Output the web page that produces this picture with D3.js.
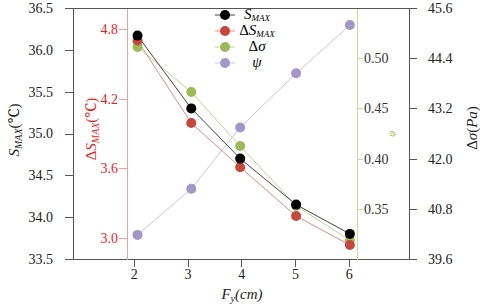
<!DOCTYPE html>
<html>
<head>
<meta charset="utf-8">
<script src="https://cdn.jsdelivr.net/npm/d3@7"></script>
<style>
  body { margin: 0; background: #fff; }
  svg text { font-family: 'Times New Roman', Times, 'Liberation Serif', Tinos, 'Noto Serif', 'DejaVu Serif', serif; }
  .axis path, .axis line { shape-rendering: crispEdges; }
</style>
</head>
<body>
<svg id="chart" width="480" height="306"></svg>
<script>
// Values.
const fy = [2.07, 3.07, 3.98, 5.02, 6.02];
const sMax = [36.17, 35.30, 34.70, 34.15, 33.80];
const dSMax = [4.70, 3.99, 3.61, 3.19, 2.94];
const dSigma = [44.67, 43.59, 42.30, 40.87, 40.05];
const psi = [0.324, 0.370, 0.431, 0.485, 0.533];

const xTicks = [2, 3, 4, 5, 6];
const sMaxTicks = [33.5, 34.0, 34.5, 35.0, 35.5, 36.0, 36.5];
const dSMaxTicks = [3.0, 3.6, 4.2, 4.8];
const psiTicks = [0.35, 0.40, 0.45, 0.50];
const dSigmaTicks = [39.6, 40.8, 42.0, 43.2, 44.4, 45.6];

const plotLeft = 73, plotRight = 409, plotTop = 8, plotBottom = 259;
const redAxisX = 127, greenAxisX = 357;

const svg = d3.select('#chart');

let x = d3.scaleLinear().domain([0.87, 7.12]).range([plotLeft, plotRight]);
let ySMax = d3.scaleLinear().domain([33.5, 36.5]).range([plotBottom, plotTop]);
let yDSMax = d3.scaleLinear().domain([2.82, 4.98]).range([plotBottom, plotTop]);
let yPsi = d3.scaleLinear().domain([0.30, 0.55]).range([plotBottom, plotTop]);
let ySigma = d3.scaleLinear().domain([39.6, 45.6]).range([plotBottom, plotTop]);

const frame = '#555';

function styleAxis(g, color, textColor) {
  g.attr('class', 'axis').attr('font-size', 14);
  g.selectAll('path').attr('stroke', color);
  g.selectAll('line').attr('stroke', color);
  g.selectAll('text').attr('fill', textColor);
}

// Top frame line.
svg.append('line')
  .attr('x1', plotLeft).attr('x2', plotRight).attr('y1', plotTop + 0.5).attr('y2', plotTop + 0.5)
  .attr('stroke', frame);

// Bottom axis.
svg.append('g')
  .attr('transform', `translate(0,${plotBottom})`)
  .call(d3.axisBottom(x).tickValues(xTicks).tickFormat(d3.format('d')).tickSize(8).tickSizeOuter(0).tickPadding(2))
  .call(g => styleAxis(g, frame, '#222'));

// Left S_MAX axis.
svg.append('g')
  .attr('transform', `translate(${plotLeft},0)`)
  .call(d3.axisLeft(ySMax).tickValues(sMaxTicks).tickFormat(d3.format('.1f')).tickSize(8).tickSizeOuter(0).tickPadding(12))
  .call(g => styleAxis(g, frame, '#222'));

// Right Δσ axis.
svg.append('g')
  .attr('transform', `translate(${plotRight},0)`)
  .call(d3.axisRight(ySigma).tickValues(dSigmaTicks).tickFormat(d3.format('.1f')).tickSize(8).tickSizeOuter(0).tickPadding(11))
  .call(g => styleAxis(g, frame, '#222'));

// Inner red ΔS_MAX axis.
svg.append('g')
  .attr('transform', `translate(${redAxisX},0)`)
  .call(d3.axisLeft(yDSMax).tickValues(dSMaxTicks).tickFormat(d3.format('.1f')).tickSize(8).tickSizeOuter(0).tickPadding(1))
  .call(g => styleAxis(g, '#eba3a0', '#f01c1c'));

// Inner green ψ axis.
svg.append('g')
  .attr('transform', `translate(${greenAxisX},0)`)
  .call(d3.axisRight(yPsi).tickValues(psiTicks).tickFormat(d3.format('.2f')).tickSize(6).tickSizeOuter(0).tickPadding(1))
  .call(g => styleAxis(g, '#c3dc98', '#333'));

// Series.
let series = [
  { name: 'psi', values: psi, y: yPsi, line: '#cbc2e2', dot: '#a596c8' },
  { name: 'dSigma', values: dSigma, y: ySigma, line: '#bcd68e', dot: '#9bbb59' },
  { name: 'dSMax', values: dSMax, y: yDSMax, line: '#e58a80', dot: '#c8463d' },
  { name: 'sMax', values: sMax, y: ySMax, line: '#444', dot: '#000' }
];

for (let s of series) {
  let pts = d3.zip(fy, s.values);
  let line = d3.line().x(d => x(d[0])).y(d => s.y(d[1]));
  svg.append('path')
    .datum(pts)
    .attr('fill', 'none')
    .attr('stroke', s.line)
    .attr('stroke-width', 1)
    .attr('d', line);
}
for (let s of series) {
  svg.append('g').selectAll('circle')
    .data(d3.zip(fy, s.values))
    .enter()
    .append('circle')
      .attr('cx', d => x(d[0]))
      .attr('cy', d => s.y(d[1]))
      .attr('r', 5)
      .attr('fill', s.dot);
}

// Legend.
let legendItems = [
  { label: ['', 'S', 'MAX'], line: '#444', dot: '#000' },
  { label: ['Δ', 'S', 'MAX'], line: '#e58a80', dot: '#c8463d' },
  { label: ['Δ', 'σ', ''], line: '#bcd68e', dot: '#9bbb59' },
  { label: ['', 'ψ', ''], line: '#cbc2e2', dot: '#a596c8' }
];
let legend = svg.append('g').attr('transform', 'translate(215,15)');
legendItems.forEach((item, i) => {
  let row = legend.append('g').attr('transform', `translate(0,${i * 16})`);
  row.append('line').attr('x1', 0).attr('x2', 20).attr('stroke', item.line);
  row.append('circle').attr('cx', 10).attr('r', 5).attr('fill', item.dot);
  let t = row.append('text')
    .attr('x', 42).attr('y', 4)
    .attr('text-anchor', 'middle')
    .attr('font-size', 15);
  if (item.label[0]) t.append('tspan').text(item.label[0]);
  t.append('tspan').attr('font-style', 'italic').text(item.label[1]);
  if (item.label[2]) {
    t.append('tspan').attr('font-style', 'italic').attr('font-size', 9).attr('dy', 2).text(item.label[2]);
  }
});

// Axis titles.
function vTitle(cx, cy, color, parts) {
  let t = svg.append('text')
    .attr('transform', `translate(${cx},${cy}) rotate(-90)`)
    .attr('text-anchor', 'middle')
    .attr('fill', color)
    .attr('font-size', 15);
  for (let p of parts) {
    let span = t.append('tspan').text(p.text);
    if (p.italic) span.attr('font-style', 'italic');
    if (p.sub) span.attr('font-size', 10).attr('dy', 3);
    if (p.up) span.attr('dy', -3);
  }
  return t;
}

vTitle(19, 130, '#222', [
  { text: 'S', italic: true }, { text: 'MAX', italic: true, sub: true }, { text: '(℃)', up: true }
]);
vTitle(96, 129, '#f01c1c', [
  { text: 'Δ' }, { text: 'S', italic: true }, { text: 'MAX', italic: true, sub: true }, { text: '(℃)', up: true }
]);
vTitle(477, 128, '#222', [
  { text: 'Δ' }, { text: 'σ', italic: true }, { text: '(' }, { text: 'Pa', italic: true }, { text: ')' }
]);
svg.append('text')
  .attr('transform', 'translate(395,134) rotate(-90)')
  .attr('text-anchor', 'middle')
  .attr('fill', '#9bbb59')
  .attr('font-size', 10)
  .attr('font-style', 'italic')
  .text('ψ');

let xTitle = svg.append('text')
  .attr('x', 242).attr('y', 299)
  .attr('text-anchor', 'middle')
  .attr('fill', '#222')
  .attr('font-size', 15)
  .attr('font-style', 'italic');
xTitle.append('tspan').text('F');
xTitle.append('tspan').attr('font-size', 10).attr('dy', 3).text('y');
xTitle.append('tspan').attr('dy', -3).text('(cm)');
</script>
</body>
</html>
